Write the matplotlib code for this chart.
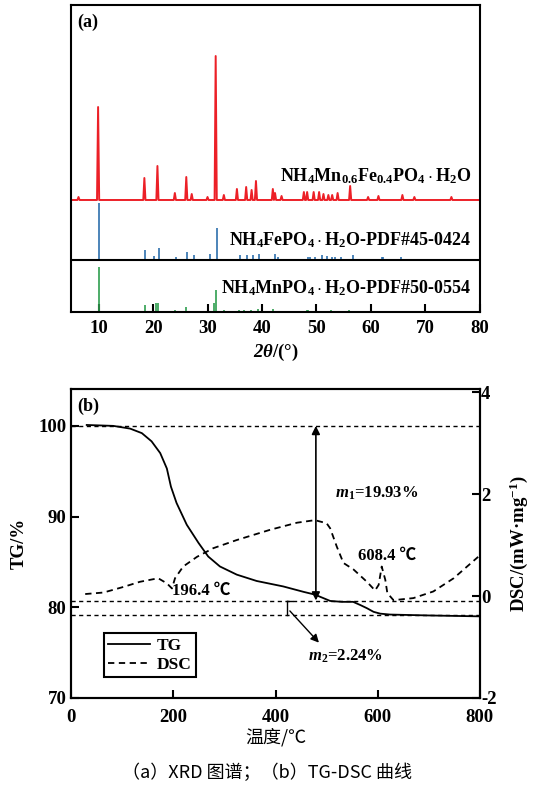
import numpy as np
import matplotlib
matplotlib.use("Agg")
import matplotlib.pyplot as plt

plt.rcParams['font.family'] = ['Liberation Serif', 'Noto Sans CJK SC', 'DejaVu Sans']
plt.rcParams['font.weight'] = 'bold'
plt.rcParams['axes.unicode_minus'] = False
plt.rcParams['mathtext.fontset'] = 'custom'
plt.rcParams['mathtext.rm'] = 'Liberation Serif:bold'
plt.rcParams['mathtext.bf'] = 'Liberation Serif:bold'
plt.rcParams['mathtext.it'] = 'Liberation Serif:italic:bold'
plt.rcParams['mathtext.bfit'] = 'Liberation Serif:italic:bold'
plt.rcParams['axes.linewidth'] = 1.5

# XRD: sample peaks (2theta, intensity a.u.)
xrd_pos = [6.3, 9.9, 18.4, 20.8, 24.0, 26.1, 27.1, 30.0, 31.5, 33.0, 35.4, 37.1, 38.1, 38.9,
           42.0, 42.4, 43.6, 47.7, 48.3, 49.5, 50.5, 51.3, 52.2, 52.9, 53.9, 56.2, 59.5,
           61.4, 65.8, 68.0, 74.8]
xrd_int = [3, 93, 22, 34, 7, 23, 6, 3, 144, 5, 11, 13, 10, 19,
           11, 7, 4, 8, 8, 8, 8, 6, 5, 5, 7, 14, 3,
           4, 5, 3, 3]

# PDF#45-0424 NH4FePO4.H2O
fe_pos = [10.0, 18.6, 20.1, 21.0, 24.2, 26.3, 27.5, 30.5, 31.8, 35.9, 37.3, 38.3, 39.5,
          42.4, 42.9, 48.4, 48.8, 49.7, 51.0, 52.0, 52.8, 53.4, 54.6, 56.7, 62.0, 62.3, 65.5]
fe_int = [57, 10, 4, 12, 3, 8, 5, 6, 32, 5, 5, 5, 6,
          6, 3, 3, 3, 3, 5, 4, 3, 3, 3, 5, 3, 3, 3]

# PDF#50-0554 NH4MnPO4.H2O
mn_pos = [10.0, 18.5, 20.6, 20.9, 24.1, 26.0, 27.1, 31.2, 31.5, 33.0, 35.7, 36.7, 37.9,
          39.2, 42.0, 48.2, 48.5, 52.6, 55.9]
mn_int = [45, 7, 9, 9, 2, 5, 1, 9, 22, 2, 2, 2, 2,
          3, 3, 2, 2, 2, 2]

# TG-DSC
tg_T = [30, 82, 115, 138, 157, 174, 187, 195, 206, 226, 249, 268, 291, 324, 363, 415,
        455, 477, 507, 530, 552, 566, 579, 592, 605, 624, 700, 800]
tg_v = [100.1, 100.0, 99.7, 99.2, 98.3, 97.0, 95.3, 93.3, 91.5, 89.1, 87.1, 85.6, 84.5,
        83.6, 82.9, 82.3, 81.7, 81.4, 80.7, 80.6, 80.6, 80.25, 79.9, 79.5, 79.3, 79.2,
        79.1, 79.0]
dsc_T = [27, 63, 102, 134, 170, 187, 197, 203, 219, 246, 278, 324, 389, 442, 477, 500,
         507, 520, 533, 553, 579, 595, 602, 608, 615, 619, 631, 670, 709, 749, 797]
dsc_v = [0.04, 0.07, 0.18, 0.28, 0.35, 0.25, 0.15, 0.35, 0.58, 0.77, 0.94, 1.10, 1.30,
         1.44, 1.49, 1.43, 1.33, 0.97, 0.65, 0.52, 0.28, 0.11, 0.22, 0.58, 0.32, 0.06,
         -0.08, -0.04, 0.09, 0.35, 0.77]

fig = plt.figure(figsize=(5.33, 7.87), dpi=100)

# ---------- (a) XRD ----------
ax1 = fig.add_axes([0.134, 0.6036, 0.766, 0.39])
red_base, blue_base = 112, 52

# sample pattern as narrow peaks on a flat baseline
xs, ys = [5.0], [0.0]
for p, h in sorted(zip(xrd_pos, xrd_int)):
    xs += [p - 0.2, p, p + 0.2]
    ys += [0.0, h, 0.0]
xs.append(80.0)
ys.append(0.0)
ax1.plot(xs, np.array(ys) + red_base, color='#ec2027', lw=1.4)
ax1.vlines(fe_pos, blue_base, np.array(fe_int) + blue_base, color='#2e6fad', lw=1.2)
ax1.vlines(mn_pos, 0, mn_int, color='#2f9e4f', lw=1.2)
ax1.axhline(blue_base, color='black', lw=1.5)

ax1.set_xlim(5, 80)
ax1.set_ylim(0, 307)
ax1.set_yticks([])
ax1.set_xticks(range(10, 81, 10))
ax1.tick_params(axis='x', direction='in', length=6, width=1.5, labelsize=13.5, pad=6)
ax1.set_xlabel(r'$\mathbfit{2\theta}$/(°)', fontsize=13.5, fontweight='bold', labelpad=3)

ax1.text(0.015, 0.945, '(a)', transform=ax1.transAxes, fontsize=13, va='center')
ax1.text(78.4, 136, r'$\mathbf{NH_4Mn_{0.6}Fe_{0.4}PO_4\cdot H_2O}$', ha='right', va='center', fontsize=13)
ax1.text(78.4, 72, r'$\mathbf{NH_4FePO_4\cdot H_2O}$-PDF#45-0424', ha='right', va='center', fontsize=13)
ax1.text(78.4, 24, r'$\mathbf{NH_4MnPO_4\cdot H_2O}$-PDF#50-0554', ha='right', va='center', fontsize=13)

# ---------- (b) TG-DSC ----------
ax2 = fig.add_axes([0.134, 0.1131, 0.766, 0.393])
ax3 = ax2.twinx()

ax2.plot(tg_T, tg_v, color='black', lw=1.3, label='TG')
ax3.plot(dsc_T, dsc_v, color='black', lw=1.3, linestyle=(0, (3.5, 2.5)))
ax2.plot([], [], color='black', lw=1.3, linestyle=(0, (3.5, 2.5)), label='DSC')

for yv in [100, 80.65, 79.15]:
    ax2.axhline(yv, color='black', lw=1.0, linestyle=(0, (3, 2.5)))

ax2.set_xlim(0, 800)
ax2.set_ylim(70, 104.1)
ax3.set_ylim(-2, 4.07)
ax2.set_xticks([0, 200, 400, 600, 800])
ax2.set_yticks([70, 80, 90, 100])
ax3.set_yticks([-2, 0, 2, 4])
ax2.tick_params(direction='in', length=6, width=1.5, labelsize=13.5)
ax2.tick_params(axis='x', pad=8)
ax3.tick_params(direction='in', length=6, width=1.5, labelsize=13.5, pad=1)

for ax in (ax1, ax2, ax3):
    for lab in ax.get_xticklabels() + ax.get_yticklabels():
        lab.set_fontweight('bold')
        lab.set_family(['Liberation Serif'])

ax2.set_xlabel('温度/℃', fontsize=13, fontweight='normal', family=['Noto Sans CJK SC'], labelpad=1)
ax2.set_ylabel('TG/%', fontsize=13.5, fontweight='bold', family=['Liberation Serif'], labelpad=8)
ax3.set_ylabel(r'DSC/(mW·mg$^{\mathbf{-1}}$)', fontsize=13.5, fontweight='bold',
               family=['Liberation Serif'], labelpad=8)

ax2.text(0.015, 0.944, '(b)', transform=ax2.transAxes, fontsize=13, va='center')

# m1 double arrow
ax2.annotate('', xy=(479, 100), xytext=(479, 80.75),
             arrowprops=dict(arrowstyle='<|-|>', color='black', lw=1.2,
                             mutation_scale=12, shrinkA=0, shrinkB=0))
ax2.text(598, 92.6, r'$\mathbfit{m}_\mathbf{1}$=19.93%', ha='center', va='center', fontsize=12)

# m2 bracket and arrow
ax2.plot([423, 423], [80.65, 79.15], color='black', lw=1.0)
ax2.plot([423, 433], [80.65, 80.65], color='black', lw=1.0)
ax2.annotate('', xy=(485, 76.1), xytext=(428, 79.6),
             arrowprops=dict(arrowstyle='-|>', color='black', lw=1.0,
                             mutation_scale=12, shrinkA=0, shrinkB=0))
ax2.text(538, 74.6, r'$\mathbfit{m}_\mathbf{2}$=2.24%', ha='center', va='center', fontsize=12)

ax2.text(197, 81.8, '196.4 ℃', ha='left', va='center', fontsize=12)
ax2.text(562, 85.7, '608.4 ℃', ha='left', va='center', fontsize=12)

leg = ax2.legend(loc='lower left', bbox_to_anchor=(0.079, 0.068), borderaxespad=0,
                 fancybox=False, edgecolor='black', framealpha=1, fontsize=12.5,
                 handlelength=2.4, handletextpad=0.4, labelspacing=0.15, borderpad=0.25)
leg.get_frame().set_linewidth(1.5)

fig.text(0.5, 0.018, '（a）XRD 图谱；（b）TG-DSC 曲线', ha='center', va='center',
         fontsize=13, fontweight='normal', family=['Noto Sans CJK SC'])

fig.savefig('out.png', dpi=100)
